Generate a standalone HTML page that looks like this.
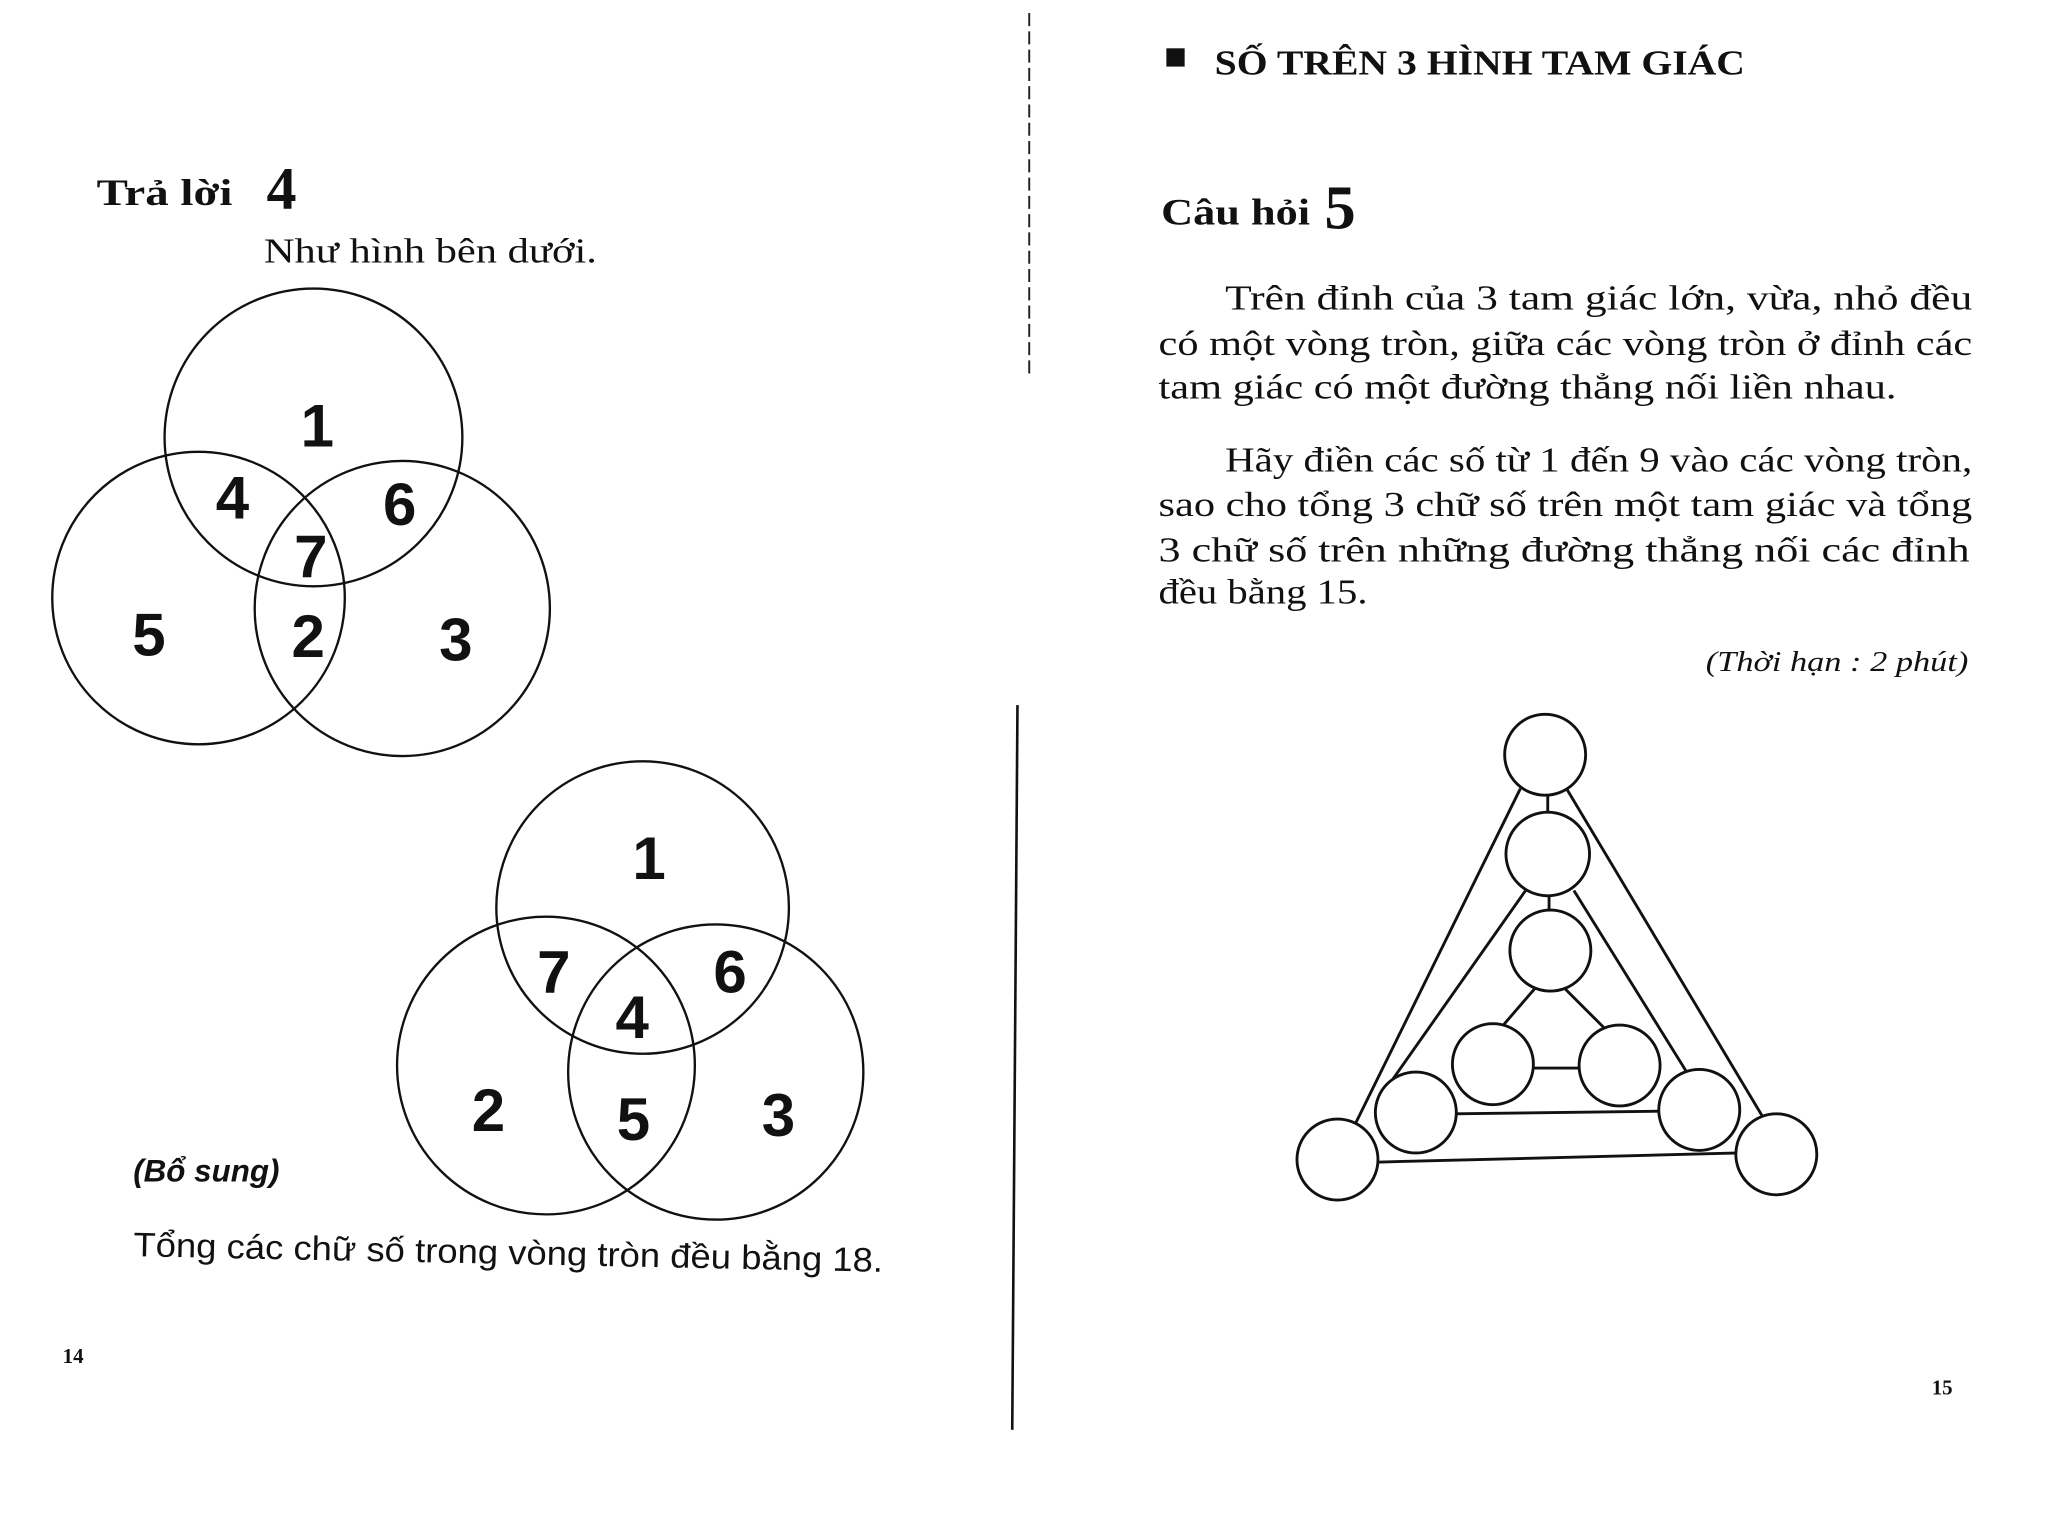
<!DOCTYPE html>
<html><head><meta charset="utf-8"><style>
html,body{margin:0;padding:0;background:#fff;}
svg{display:block}
</style></head><body>
<svg width="2048" height="1516" viewBox="0 0 1568 1161" preserveAspectRatio="none" xmlns="http://www.w3.org/2000/svg">
<rect width="1568" height="1161" fill="#fff"/>
<g font-family="Liberation Serif, serif" fill="#111">
<text x="74" y="157" font-size="28" font-weight="bold" textLength="104" lengthAdjust="spacingAndGlyphs">Trả lời</text>
<text x="204" y="160" font-size="46" font-weight="bold">4</text>
<text x="202" y="201" font-size="27" textLength="255" lengthAdjust="spacingAndGlyphs">Như hình bên dưới.</text>
<text x="48" y="1044" font-size="16" font-weight="bold">14</text>
<text x="1479" y="1068" font-size="16" font-weight="bold">15</text>
<text x="930" y="57" font-size="27" font-weight="bold" textLength="406" lengthAdjust="spacingAndGlyphs">SỐ TRÊN 3 HÌNH TAM GIÁC</text>
<text x="889" y="172" font-size="28" font-weight="bold" textLength="114" lengthAdjust="spacingAndGlyphs">Câu hỏi</text>
<text x="1014" y="175" font-size="48" font-weight="bold">5</text>
<g font-size="27">
<text x="938" y="237" textLength="572" lengthAdjust="spacingAndGlyphs">Trên đỉnh của 3 tam giác lớn, vừa, nhỏ đều</text>
<text x="887" y="272" textLength="623" lengthAdjust="spacingAndGlyphs">có một vòng tròn, giữa các vòng tròn ở đỉnh các</text>
<text x="887" y="305" textLength="565" lengthAdjust="spacingAndGlyphs">tam giác có một đường thẳng nối liền nhau.</text>
<text x="938" y="361" textLength="572" lengthAdjust="spacingAndGlyphs">Hãy điền các số từ 1 đến 9 vào các vòng tròn,</text>
<text x="887" y="395" textLength="623" lengthAdjust="spacingAndGlyphs">sao cho tổng 3 chữ số trên một tam giác và tổng</text>
<text x="887" y="430" textLength="621" lengthAdjust="spacingAndGlyphs">3 chữ số trên những đường thẳng nối các đỉnh</text>
<text x="887" y="462" textLength="160" lengthAdjust="spacingAndGlyphs">đều bằng 15.</text>
</g>
<text x="1306" y="514" font-size="22" font-style="italic" textLength="201" lengthAdjust="spacingAndGlyphs">(Thời hạn : 2 phút)</text>
</g>
<rect x="893" y="37" width="14" height="14" fill="#111"/>
<g font-family="Liberation Sans, sans-serif" fill="#111">
<text x="102" y="905" font-size="24" font-weight="bold" font-style="italic">(Bổ sung)</text>
<text x="102" y="962" font-size="26" transform="rotate(1.2 102 962)" textLength="574" lengthAdjust="spacingAndGlyphs">Tổng các chữ số trong vòng tròn đều bằng 18.</text>
</g>
<line x1="788" y1="10" x2="788" y2="290" stroke="#222" stroke-width="1.5" stroke-dasharray="10 4"/>
<line x1="779" y1="540" x2="775" y2="1095" stroke="#111" stroke-width="2"/>
<g fill="none" stroke="#111" stroke-width="1.8">
<circle cx="240" cy="335" r="114"/>
<circle cx="152" cy="458" r="112"/>
<circle cx="308" cy="466" r="113"/>
<circle cx="492" cy="695" r="112"/>
<circle cx="418" cy="816" r="114"/>
<circle cx="548" cy="821" r="113"/>
</g>
<g font-family="Liberation Sans, sans-serif" font-weight="bold" font-size="46" fill="#111" text-anchor="middle">
<text x="243" y="342">1</text>
<text x="178" y="397">4</text>
<text x="306" y="402">6</text>
<text x="238" y="442">7</text>
<text x="114" y="502">5</text>
<text x="236" y="503">2</text>
<text x="349" y="506">3</text>
<text x="497" y="673">1</text>
<text x="424" y="760">7</text>
<text x="559" y="760">6</text>
<text x="484" y="795">4</text>
<text x="374" y="866">2</text>
<text x="485" y="873">5</text>
<text x="596" y="870">3</text>
</g>
<g fill="none" stroke="#111" stroke-width="2.2">
<line x1="1164" y1="604" x2="1037" y2="862"/>
<line x1="1200" y1="605" x2="1350" y2="856"/>
<line x1="1168" y1="682" x2="1066" y2="827"/>
<line x1="1205" y1="682" x2="1292" y2="822"/>
<line x1="1176" y1="756" x2="1151" y2="785"/>
<line x1="1198" y1="757" x2="1228" y2="787"/>
<line x1="1172" y1="818" x2="1210" y2="818"/>
<line x1="1114" y1="853" x2="1271" y2="851"/>
<line x1="1054" y1="890" x2="1331" y2="883"/>
<line x1="1185" y1="609" x2="1185" y2="622"/>
<line x1="1186" y1="686" x2="1186" y2="697"/>
<g fill="#fff">
<circle cx="1183" cy="578" r="31"/>
<circle cx="1185" cy="654" r="32"/>
<circle cx="1187" cy="728" r="31"/>
<circle cx="1143" cy="815" r="31"/>
<circle cx="1240" cy="816" r="31"/>
<circle cx="1084" cy="852" r="31"/>
<circle cx="1301" cy="850" r="31"/>
<circle cx="1024" cy="888" r="31"/>
<circle cx="1360" cy="884" r="31"/>
</g>
</g>
</svg>
</body></html>
